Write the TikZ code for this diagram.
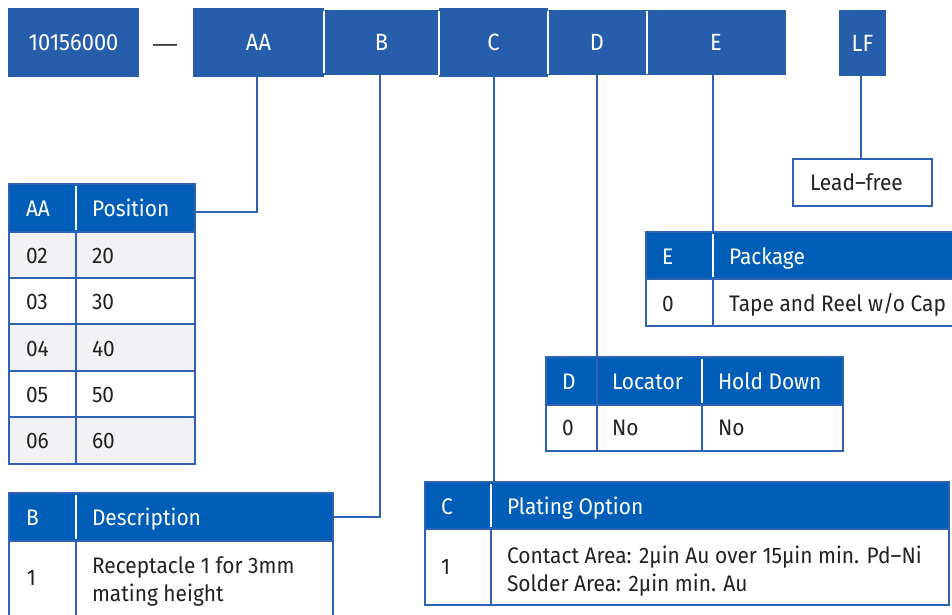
\documentclass[tikz,border=0pt]{standalone}
\usepackage{fontspec}
\setmainfont{Fira Sans}[FakeStretch=0.93]
\newfontfamily\dashfont{Liberation Sans}
\definecolor{topblue}{HTML}{265EAC}
\definecolor{hdrblue}{HTML}{005EB8}
\definecolor{bord}{HTML}{2E63B3}
\definecolor{rowgray}{HTML}{F2F2F4}
\definecolor{txt}{HTML}{222222}
\newcommand\rbox[6]{\node[#6, anchor=north west, minimum width={(#4-#2)*1pt}, minimum height={(#5-#3)*1pt}] (#1) at (#2,#3) {};}
\newcommand\lbl[5]{\node[#5] (#1) at (#2,#3) {#4};}
\begin{document}
\begin{tikzpicture}[x=1pt,y=-1pt,
  every node/.style={inner sep=0pt, outer sep=0pt, font=\fontsize{22.5}{27}\selectfont},
  topbox/.style={fill=topblue, text=white, draw=none, font=\fontsize{23.5}{28}\selectfont},
  hdr/.style={fill=hdrblue, draw=bord, line width=1.5pt},
  cellw/.style={fill=white, draw=bord, line width=2pt},
  cellg/.style={fill=rowgray, draw=bord, line width=2pt},
  wt/.style={text=white, anchor=base west},
  bt/.style={text=txt, anchor=base west},
  conn/.style={draw=bord, line width=2pt},
  sep/.style={draw=white, line width=2pt},
]
\useasboundingbox (0,0) rectangle (952,615);
\clip (0,0) rectangle (952,615);
% top row
\node[topbox, minimum width=131pt, minimum height=69pt] (pn) at (73.5,42.5) {10156000};
\node[text=txt, anchor=base, font=\dashfont\fontsize{24}{28}\selectfont] (dash) at (165,52) {—};
\node[topbox, minimum width=131pt, minimum height=69pt] (aa) at (258.5,42.5) {AA};
\node[topbox, minimum width=115pt, minimum height=65pt] (b) at (381.5,42.5) {B};
\node[topbox, minimum width=109pt, minimum height=69pt] (c) at (493.5,42.5) {C};
\node[topbox, minimum width=98pt, minimum height=65pt] (d) at (597,42.5) {D};
\node[topbox, minimum width=140pt, minimum height=65pt] (e) at (716,42.5) {E};
\node[topbox, minimum width=47pt, minimum height=66pt] (lf) at (862.5,43) {LF};
\draw[sep] (323.5,11) -- (323.5,73);
\draw[sep] (438.5,11) -- (438.5,75);
\draw[sep] (548,11) -- (548,74);
\draw[sep] (646.5,11) -- (646.5,74);
% connectors
\draw[conn] ([xshift=-1.5pt]aa.south) |- (195,212);
\draw[conn] ([xshift=-1.5pt]b.south) |- (333,517);
\draw[conn] (c.south) -- (493.5,483);
\draw[conn] (d.south) -- (597,357);
\draw[conn] ([xshift=-3pt]e.south) -- (713,232);
\draw[conn] ([xshift=-2pt]lf.south) -- (860.5,159);
% AA table
\rbox{aaH}{9}{184}{195}{232}{hdr}
\draw[sep] (76,186) -- (76,230);
\rbox{aa1a}{9}{232}{76}{278}{cellg}\rbox{aa1b}{76}{232}{195}{278}{cellg}
\rbox{aa2a}{9}{278}{76}{324}{cellw}\rbox{aa2b}{76}{278}{195}{324}{cellw}
\rbox{aa3a}{9}{324}{76}{371}{cellg}\rbox{aa3b}{76}{324}{195}{371}{cellg}
\rbox{aa4a}{9}{371}{76}{417}{cellw}\rbox{aa4b}{76}{371}{195}{417}{cellw}
\rbox{aa5a}{9}{417}{76}{464}{cellg}\rbox{aa5b}{76}{417}{195}{464}{cellg}
\lbl{taa}{26}{216}{AA}{wt}\lbl{tpos}{92}{216}{Position}{wt}
\lbl{t02}{26}{263}{02}{bt}\lbl{t20}{92}{263}{20}{bt}
\lbl{t03}{26}{309}{03}{bt}\lbl{t30}{92}{309}{30}{bt}
\lbl{t04}{26}{356}{04}{bt}\lbl{t40}{92}{356}{40}{bt}
\lbl{t05}{26}{402}{05}{bt}\lbl{t50}{92}{402}{50}{bt}
\lbl{t06}{26}{448}{06}{bt}\lbl{t60}{92}{448}{60}{bt}
% B table
\rbox{bH}{9}{493}{333}{541}{hdr}
\draw[sep] (76,495) -- (76,539);
\rbox{b1a}{9}{541}{76}{630}{cellw}\rbox{b1b}{76}{541}{333}{630}{cellw}
\lbl{tb}{26}{525}{B}{wt}\lbl{tdesc}{92}{525}{Description}{wt}
\lbl{tb1}{27}{585}{1}{bt}
\lbl{tbd1}{92}{573}{Receptacle 1 for 3mm}{bt}
\lbl{tbd2}{92}{601}{mating height}{bt}
% C table
\rbox{cH}{425}{482}{949}{529}{hdr}
\draw[sep] (491,484) -- (491,527);
\rbox{c1a}{425}{529}{491}{605}{cellw}\rbox{c1b}{491}{529}{949}{605}{cellw}
\lbl{tc}{441}{514}{C}{wt}\lbl{tplat}{507}{514}{Plating Option}{wt}
\lbl{tc1}{441}{574}{1}{bt}
\lbl{tcd1}{507}{563}{Contact Area: 2µin Au over 15µin min. Pd–Ni}{bt}
\lbl{tcd2}{507}{591}{Solder Area: 2µin min. Au}{bt}
% D table
\rbox{dH}{546}{357}{843}{405}{hdr}
\draw[bord, line width=1.5pt] (597,358) -- (597,404);
\draw[sep] (702,359) -- (702,403);
\rbox{d1a}{546}{405}{597}{451}{cellw}\rbox{d1b}{597}{405}{702}{451}{cellw}\rbox{d1c}{702}{405}{843}{451}{cellw}
\lbl{td}{562}{389}{D}{wt}\lbl{tloc}{612}{389}{Locator}{wt}\lbl{thold}{718}{389}{Hold Down}{wt}
\lbl{td0}{562}{435}{0}{bt}\lbl{tno1}{612}{435}{No}{bt}\lbl{tno2}{718}{435}{No}{bt}
% E table
\rbox{eH}{646}{232}{970}{279}{hdr}
\draw[sep] (713,234) -- (713,277);
\rbox{e1a}{646}{279}{713}{326}{cellw}\rbox{e1b}{713}{279}{970}{326}{cellw}
\lbl{te}{662}{264}{E}{wt}\lbl{tpack}{729}{264}{Package}{wt}
\lbl{te0}{662}{311}{0}{bt}\lbl{ttape}{729}{311}{Tape and Reel w/o Cap}{bt}
% Lead-free
\rbox{lead}{793}{159}{932}{206}{cellw}
\lbl{tlead}{810}{190}{Lead–free}{bt}
\end{tikzpicture}
\end{document}
